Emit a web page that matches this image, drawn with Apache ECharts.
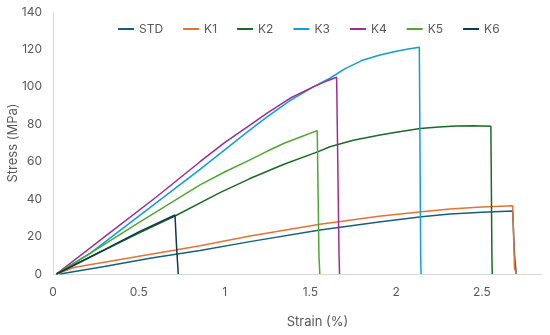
<!DOCTYPE html>
<html>
<head>
<meta charset="utf-8">
<script src="https://cdn.jsdelivr.net/npm/echarts@6/dist/echarts.min.js"></script>
<style>html,body{margin:0;padding:0;background:#fff}#c{width:550px;height:335px}</style>
</head>
<body>
<div id="c"></div>
<script>
const seriesNames = ['STD', 'K1', 'K2', 'K3', 'K4', 'K5', 'K6'];
const colors = ['#156082', '#E97132', '#196B24', '#0F9ED5', '#A02B93', '#4EA72E', '#0C3A4E'];

const stdStrain = [0.04, 0.3, 0.565, 0.857, 1.148, 1.556, 1.9, 2.148, 2.313, 2.5, 2.679, 2.69, 2.70];
const stdStress = [0, 4.0, 8.4, 12.5, 17.3, 23.5, 27.8, 30.6, 32.1, 33.0, 33.7, 10, 0];

const k1Strain = [0.02, 0.12, 0.4, 0.857, 1.148, 1.556, 1.9, 2.148, 2.313, 2.5, 2.679, 2.687, 2.69, 2.70];
const k1Stress = [0, 3.5, 7.9, 15.1, 20.3, 26.6, 30.8, 33.3, 34.7, 35.8, 36.5, 36.4, 3, 0];

const k2Strain = [0.02, 0.3, 0.5, 0.711, 0.973, 1.148, 1.35, 1.546, 1.614, 1.75, 1.906, 2.0, 2.139, 2.25, 2.35, 2.45, 2.552, 2.558, 2.56];
const k2Stress = [0, 12.8, 21.9, 31.0, 43.5, 51.0, 58.8, 65.4, 68.0, 71.5, 74.3, 75.8, 77.7, 78.6, 79.1, 79.2, 78.9, 10, 0];

const k3Strain = [0.02, 0.216, 0.5, 0.857, 1.148, 1.25, 1.381, 1.517, 1.614, 1.7, 1.808, 1.906, 2.0, 2.07, 2.135, 2.143, 2.145];
const k3Stress = [0, 11, 30.9, 55.9, 77.0, 84.1, 92.6, 100.0, 104.6, 109.6, 114.4, 117.0, 119.0, 120.2, 121.2, 10, 0];

const k4Strain = [0.02, 0.3, 0.6, 0.857, 1.0, 1.148, 1.25, 1.381, 1.517, 1.6, 1.653, 1.667, 1.67];
const k4Stress = [0, 19.8, 41.0, 60.0, 70.2, 79.6, 86.1, 93.9, 100.0, 103.3, 105.1, 10, 0];

const k5Strain = [0.02, 0.216, 0.5, 0.857, 1.0, 1.148, 1.25, 1.35, 1.45, 1.54, 1.55, 1.555];
const k5Stress = [0, 11, 27.5, 47.6, 54.5, 61.0, 65.7, 70.0, 73.5, 76.6, 10, 0];

const k6Strain = [0.02, 0.3, 0.5, 0.711, 0.72, 0.73];
const k6Stress = [0, 13.0, 22.5, 31.5, 15, 0];

const xTicks = [0, 0.5, 1, 1.5, 2, 2.5];
const yTicks = [0, 20, 40, 60, 80, 100, 120, 140];

const strains = [stdStrain, k1Strain, k2Strain, k3Strain, k4Strain, k5Strain, k6Strain];
const stresses = [stdStress, k1Stress, k2Stress, k3Stress, k4Stress, k5Stress, k6Stress];

const font = 'Inter, "Liberation Sans", sans-serif';
const txt = '#595959';

const chart = echarts.init(document.getElementById('c'));
chart.setOption({
  animation: false,
  color: colors,
  textStyle: { fontFamily: font },
  grid: { left: 53, right: 8, top: 12, bottom: 61, containLabel: false, outerBoundsMode: 'none' },
  legend: {
    left: 113, top: 18,
    itemGap: 20, itemWidth: 16, itemHeight: 2,
    icon: 'rect',
    textStyle: { color: txt, fontSize: 12, fontFamily: font },
    data: seriesNames
  },
  xAxis: {
    type: 'value', min: 0, max: 2.85, interval: 0.5,
    name: 'Strain (%)', nameLocation: 'middle', nameGap: 42, nameMoveOverlap: false,
    nameTextStyle: { color: txt, fontSize: 13, padding: [0, 0, 0, 40], fontFamily: font },
    axisLine: { show: true, lineStyle: { color: '#D9D9D9', width: 1 } },
    axisTick: { show: false },
    splitLine: { show: false },
    axisLabel: {
      color: txt, fontSize: 12, margin: 12, showMaxLabel: false, fontFamily: font,
      formatter: v => xTicks.includes(v) ? String(v) : ''
    }
  },
  yAxis: {
    type: 'value', min: 0, max: 140, interval: 20,
    name: 'Stress (MPa)', nameLocation: 'middle', nameGap: 33, nameMoveOverlap: false,
    nameTextStyle: { color: txt, fontSize: 13, fontFamily: font },
    axisLine: { show: true, lineStyle: { color: '#D9D9D9', width: 1 } },
    axisTick: { show: false },
    splitLine: { show: false },
    axisLabel: {
      color: txt, fontSize: 12, margin: 11, fontFamily: font,
      formatter: v => yTicks.includes(v) ? String(v) : ''
    }
  },
  series: seriesNames.map((n, i) => ({
    name: n,
    type: 'line',
    symbol: 'none',
    lineStyle: { width: 1.5, color: colors[i] },
    itemStyle: { color: colors[i] },
    data: strains[i].map((x, j) => [x, stresses[i][j]])
  }))
});
</script>
</body>
</html>
